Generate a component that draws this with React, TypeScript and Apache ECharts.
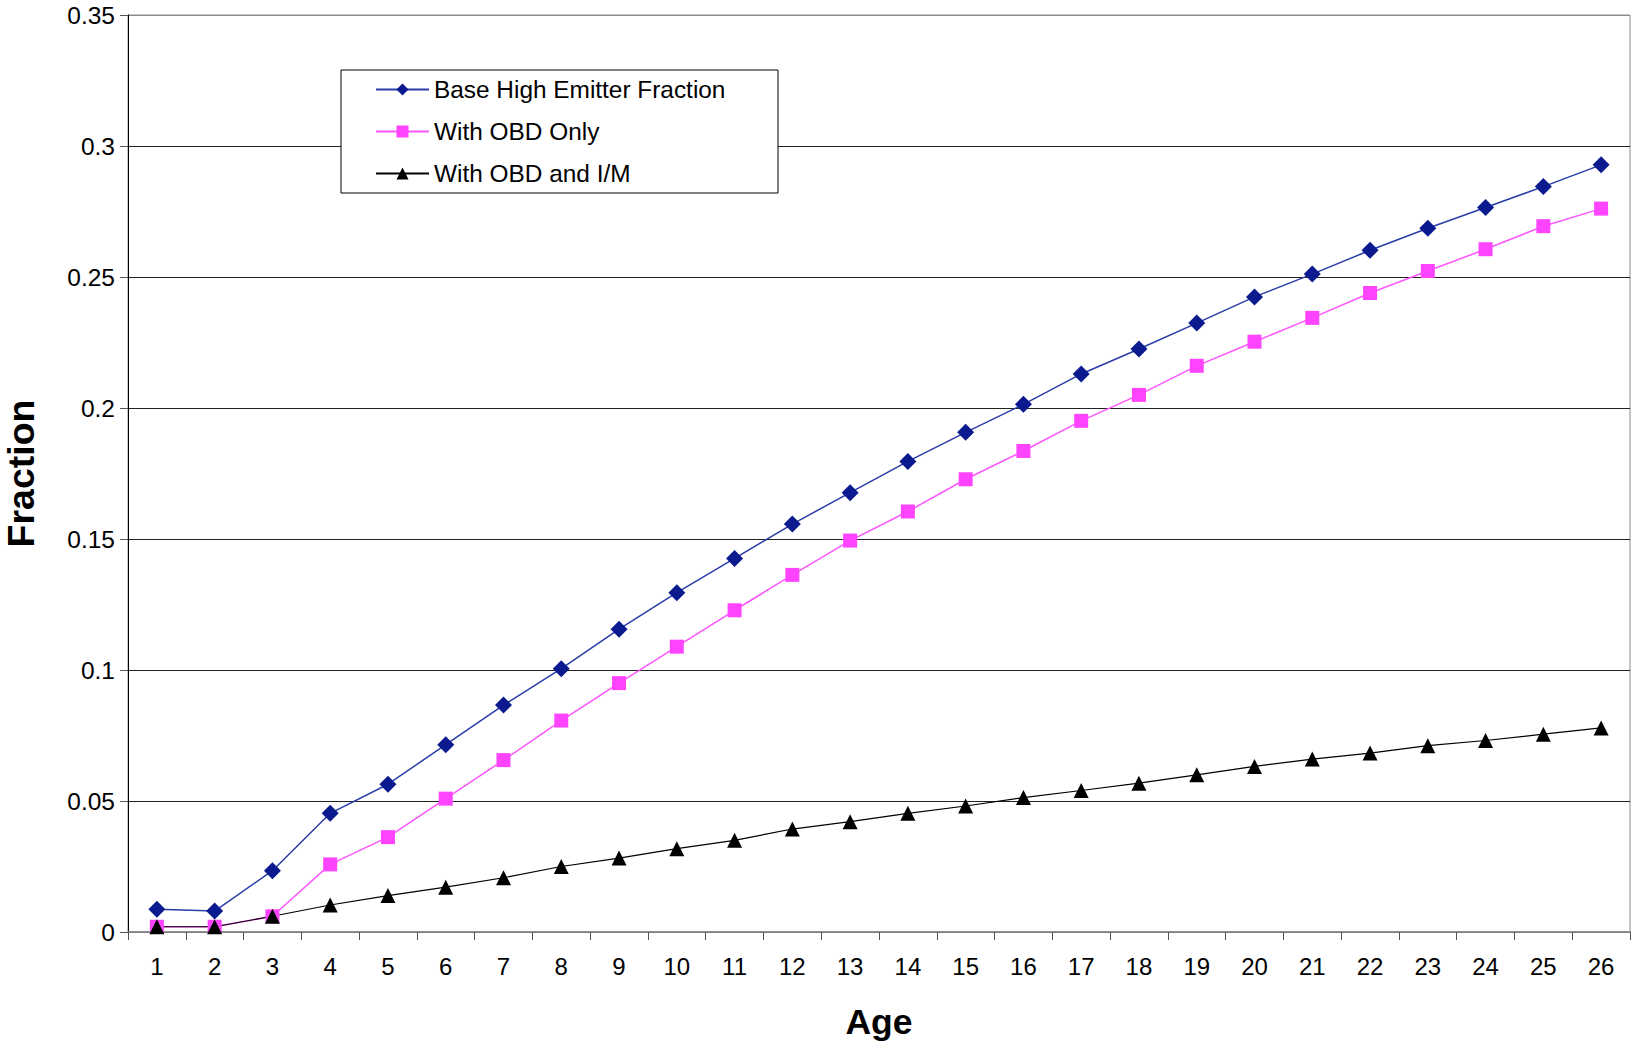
import React, { useEffect, useRef } from "react";
import * as echarts from "echarts";

const ages = ["1","2","3","4","5","6","7","8","9","10","11","12","13","14","15","16","17","18","19","20","21","22","23","24","25","26"];
const baseHigh = [0.0087,0.0080,0.0234,0.0453,0.0564,0.0715,0.0866,0.1005,0.1156,0.1295,0.1426,0.1557,0.1677,0.1796,0.1907,0.2014,0.2130,0.2225,0.2324,0.2424,0.2511,0.2602,0.2686,0.2765,0.2845,0.2928];
const obdOnly = [0.0020,0.0020,0.0060,0.0258,0.0362,0.0509,0.0656,0.0807,0.0950,0.1089,0.1228,0.1363,0.1494,0.1605,0.1728,0.1836,0.1951,0.2050,0.2161,0.2253,0.2344,0.2439,0.2523,0.2606,0.2694,0.2761];
const obdIM = [0.0020,0.0020,0.0060,0.0103,0.0139,0.0171,0.0207,0.0250,0.0282,0.0318,0.0350,0.0393,0.0421,0.0453,0.0481,0.0513,0.0540,0.0568,0.0600,0.0632,0.0660,0.0683,0.0711,0.0731,0.0755,0.0779];
const seriesNames = ["Base High Emitter Fraction", "With OBD Only", "With OBD and I/M"];

const FONT = "'Liberation Sans', Arial, sans-serif";

export default function App() {
  const ref = useRef<HTMLDivElement>(null);
  useEffect(() => {
    if (!ref.current) return;
    const chart = echarts.init(ref.current, null, { renderer: "svg" });
    chart.setOption({
      animation: false,
      backgroundColor: "#ffffff",
      textStyle: { fontFamily: FONT },
      grid: {
        left: 128, right: 2, top: 15, bottom: 110,
        containLabel: false,
        outerBoundsMode: "none",
        show: true, borderColor: "#8c8c8c", borderWidth: 1, backgroundColor: "transparent",
      },
      graphic: [
        {
          type: "rect",
          z: 50,
          shape: { x: 341, y: 70, width: 437, height: 123 },
          style: { fill: "#ffffff", stroke: "#000000", lineWidth: 1 },
        },
      ],
      legend: {
        z: 100,
        orient: "vertical",
        left: 375,
        top: 76,
        padding: 0,
        itemWidth: 53,
        itemHeight: 15,
        itemGap: 15,
        textStyle: { fontSize: 24.4, color: "#000", fontFamily: FONT, lineHeight: 27 },
        data: seriesNames,
      },
      xAxis: {
        type: "category",
        data: ages,
        boundaryGap: true,
        name: "Age",
        nameLocation: "middle",
        nameGap: 72,
        nameTextStyle: { fontSize: 35.5, fontWeight: "bold", color: "#000", fontFamily: FONT },
        axisLine: { lineStyle: { color: "#808080", width: 1.5 } },
        axisTick: { show: true, length: 8, lineStyle: { color: "#555" } },
        axisLabel: { fontSize: 24, color: "#000", margin: 22, fontFamily: FONT },
        splitLine: { show: false },
      },
      yAxis: {
        type: "value",
        min: 0,
        max: 0.35,
        interval: 0.05,
        name: "Fraction",
        nameLocation: "middle",
        nameGap: 88,
        nameTextStyle: { fontSize: 37.5, fontWeight: "bold", color: "#000", fontFamily: FONT },
        axisLine: { show: true, lineStyle: { color: "#000", width: 1 } },
        axisTick: { show: true, length: 8, lineStyle: { color: "#555" } },
        axisLabel: { fontSize: 24.5, color: "#000", margin: 13, fontFamily: FONT },
        splitLine: {
          show: true,
          lineStyle: { color: ["#808080", "#222", "#222", "#222", "#222", "#222", "#222", "#8c8c8c"], width: 1 },
        },
      },
      series: [
        {
          name: seriesNames[0],
          type: "line",
          data: baseHigh,
          symbol: "diamond",
          symbolSize: 17,
          lineStyle: { color: "#2a3ca8", width: 1.5 },
          itemStyle: { color: "#0b1a8e" },
        },
        {
          name: seriesNames[1],
          type: "line",
          data: obdOnly,
          symbol: "rect",
          symbolSize: 14,
          lineStyle: { color: "#ff55ff", width: 1.5 },
          itemStyle: { color: "#ff44ff" },
        },
        {
          name: seriesNames[2],
          type: "line",
          data: obdIM,
          symbol: "triangle",
          symbolSize: 15,
          lineStyle: { color: "#000", width: 1.2 },
          itemStyle: { color: "#000" },
        },
      ],
    });
    return () => chart.dispose();
  }, []);
  return <div ref={ref} style={{ width: 1632, height: 1042, position: "absolute", left: 0, top: 0 }} />;
}
